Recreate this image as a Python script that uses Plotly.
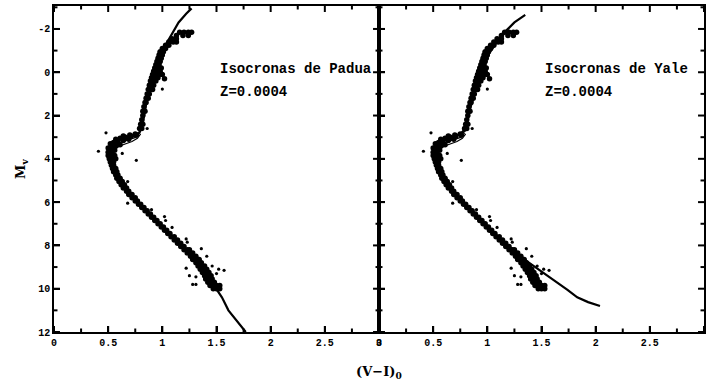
import plotly.graph_objects as go

# ---------------- data ----------------
# dense sequence stars (V-I)0, Mv
ms_x = [0.53,0.55, 0.54,0.57, 0.55,0.58, 0.57,0.59, 0.58,0.61, 0.60,0.63, 0.62,0.65, 0.64,0.67,
        0.67,0.69, 0.69,0.72, 0.72,0.75, 0.75,0.77, 0.78,0.80, 0.81,0.83, 0.84,0.86, 0.87,0.89,
        0.90,0.92, 0.93,0.95, 0.96,0.98, 0.99,1.01, 1.02,1.04, 1.05,1.07, 1.08,1.11, 1.11,1.14,
        1.14,1.17, 1.17,1.20, 1.20,1.23,1.25, 1.23,1.26,1.28, 1.26,1.29,1.31, 1.28,1.31,1.34,
        1.31,1.34,1.36, 1.33,1.36,1.39, 1.35,1.38,1.41, 1.37,1.40,1.43, 1.39,1.42,1.45,
        1.40,1.43,1.46, 1.42,1.45,1.48, 1.44,1.47,1.50,1.53, 1.47,1.50,1.53]
ms_y = [4.30,4.30, 4.45,4.45, 4.60,4.60, 4.75,4.75, 4.90,4.90, 5.05,5.05, 5.20,5.20, 5.35,5.35,
        5.50,5.50, 5.65,5.65, 5.80,5.80, 5.95,5.95, 6.10,6.10, 6.25,6.25, 6.40,6.40, 6.55,6.55,
        6.70,6.70, 6.85,6.85, 7.00,7.00, 7.15,7.15, 7.30,7.30, 7.45,7.45, 7.60,7.60, 7.75,7.75,
        7.90,7.90, 8.05,8.05, 8.20,8.20,8.20, 8.35,8.35,8.35, 8.50,8.50,8.50, 8.65,8.65,8.65,
        8.80,8.80,8.80, 8.95,8.95,8.95, 9.10,9.10,9.10, 9.25,9.25,9.25, 9.40,9.40,9.40,
        9.55,9.55,9.55, 9.70,9.70,9.70, 9.85,9.85,9.85,9.85, 10.0,10.0,10.0]

to_x = [0.64,0.70,0.75, 0.57,0.61,0.66,0.71,0.76, 0.52,0.55,0.59,0.64,0.69,
        0.50,0.53,0.57,0.61, 0.50,0.53,0.56, 0.50,0.53,0.56, 0.51,0.54,0.57, 0.52,0.55]
to_y = [2.95,2.90,2.85, 3.10,3.05,3.00,2.95,2.90, 3.30,3.25,3.20,3.15,3.10,
        3.50,3.45,3.40,3.35, 3.70,3.65,3.60, 3.85,3.85,3.85, 4.00,4.00,4.00, 4.15,4.15]

rgb_x = [0.79,0.81, 0.80,0.82, 0.81, 0.82, 0.82,0.84, 0.83, 0.84,0.85, 0.85,0.87, 0.86,0.88,
         0.87,0.89,0.91, 0.88,0.90,0.92, 0.89,0.91,0.94, 0.90,0.93,0.96,1.02, 0.91,0.94,0.97,1.00,
         0.92,0.95,0.98, 0.93,0.96,0.99, 0.94,0.97, 0.95,0.98, 0.96,0.99, 0.97,1.00, 0.98,1.01,
         1.00,1.03, 1.03,1.06, 1.06,1.10,1.13, 1.09,1.13, 1.13,1.19,1.24, 1.16,1.20,1.24,1.27]
rgb_y = [2.6,2.6, 2.4,2.4, 2.2, 2.0, 1.8,1.8, 1.6, 1.4,1.4, 1.2,1.2, 1.0,1.0,
         0.8,0.8,0.8, 0.6,0.6,0.6, 0.4,0.4,0.4, 0.25,0.25,0.25,0.3, 0.1,0.1,0.1,0.1,
         -0.05,-0.05,-0.05, -0.2,-0.2,-0.2, -0.35,-0.35, -0.5,-0.5, -0.65,-0.65, -0.8,-0.8, -0.95,-0.95,
         -1.1,-1.1, -1.25,-1.25, -1.4,-1.4,-1.4, -1.55,-1.55, -1.7,-1.7,-1.7, -1.85,-1.85,-1.85,-1.85]

out_x = [0.41,0.48,0.86,0.84,1.00,0.76,0.68,0.68,0.90,1.02,1.03,1.09,1.22,1.23,1.36,1.41,
         1.22,1.25,1.31,1.28,1.31,1.52,1.57,1.50,1.46,0.97,0.63]
out_y = [3.65,2.8,2.6,1.45,0.78,4.07,5.05,6.05,6.35,6.67,6.85,7.17,7.7,7.85,8.15,8.5,
         9.05,9.4,9.45,9.8,9.8,9.1,9.15,9.3,8.95,-0.93,3.75]

# Padua isochrone
pad_x = [1.27,1.22,1.15,1.09,1.05,1.00,0.97,0.93,0.88,0.86,0.84,0.82,0.79,0.74,0.67,0.58,0.53,0.51,
         0.52,0.53,0.56,0.61,0.70,0.82,0.97,1.09,1.22,1.34,1.43,1.48,1.55,1.61,1.69,1.77]
pad_y = [-2.95,-2.7,-2.3,-1.8,-1.4,-1.0,-0.5,0.2,0.83,1.2,1.76,2.36,2.78,2.95,3.0,3.1,3.3,3.6,
         3.9,4.1,4.5,5.0,5.6,6.25,7.0,7.6,8.2,8.85,9.5,9.9,10.4,11.0,11.5,12.0]

# Yale isochrone
yal_x = [1.35,1.25,1.17,1.09,1.02,0.97,0.93,0.90,0.87,0.84,0.82,0.80,0.75,0.69,0.62,0.56,0.52,0.51,
         0.52,0.55,0.61,0.70,0.83,0.97,1.10,1.22,1.30,1.40,1.50,1.62,1.74,1.83,1.93,2.04]
yal_y = [-2.65,-2.3,-1.9,-1.4,-0.9,-0.4,0.2,0.7,1.2,1.7,2.2,2.6,2.85,3.0,3.12,3.3,3.55,3.85,
         4.1,4.5,5.0,5.6,6.3,7.0,7.6,8.15,8.5,8.85,9.2,9.6,10.05,10.4,10.62,10.8]

# subgiant fan (other ages)
fan1_x = [0.53,0.52,0.52,0.54,0.58,0.64,0.70,0.76,0.79]
fan1_y = [4.3,4.0,3.7,3.45,3.3,3.2,3.12,3.0,2.8]
fan2_x = [0.53,0.54,0.54,0.56,0.60,0.66,0.72,0.77,0.80]
fan2_y = [4.4,4.1,3.85,3.6,3.42,3.32,3.2,3.05,2.85]
fan3_x = [0.52,0.50,0.51,0.54,0.59,0.66,0.72,0.77,0.80]
fan3_y = [4.2,3.8,3.45,3.25,3.1,3.0,2.92,2.82,2.7]

x_range = [0, 3]
y_range = [12, -3.06]
x_tickvals = [0, 0.5, 1, 1.5, 2, 2.5, 3]
x_ticktext = ["0", "0.5", "1", "1.5", "2", "2.5", "3"]
x_minorvals = [0.25, 0.75, 1.25, 1.75, 2.25, 2.75]
y_tickvals = [-2, 0, 2, 4, 6, 8, 10, 12]
y_ticktext = ["-2", "0", "2", "4", "6", "8", "10", "12"]
y_minorvals = [-3, -1, 1, 3, 5, 7, 9, 11]

panel_titles = ["Isocronas de Padua", "Isocronas de Yale"]
metallicity = "Z=0.0004"

# ---------------- figure ----------------
W, H = 707, 385
ML, MR, MT, MB = 54, 0, 6, 53
FONT = "Liberation Mono"
fig = go.Figure()

# pixel -> data unit conversions for tick lengths
plot_w = (W - ML - MR) / 2.0
plot_h = H - MT - MB
x_per_px = (x_range[1] - x_range[0]) / plot_w
y_per_px = (y_range[0] - y_range[1]) / plot_h
x_lo, x_hi = x_range
y_bot, y_top = y_range


def tick_segments(major_len, minor_len):
    xs, ys = [], []
    for vals, ln in [(x_tickvals, major_len), (x_minorvals, minor_len)]:
        d = ln * y_per_px
        for v in vals:
            xs += [v, v, None, v, v, None]
            ys += [y_bot, y_bot - d, None, y_top, y_top + d, None]
    for vals, ln in [(y_tickvals, major_len), (y_minorvals, minor_len)]:
        d = ln * x_per_px
        for v in vals:
            xs += [x_lo, x_lo + d, None, x_hi, x_hi - d, None]
            ys += [v, v, None, v, v, None]
    return xs, ys


tick_x, tick_y = tick_segments(6, 3.5)

for i, (ix, iy) in enumerate([(pad_x, pad_y), (yal_x, yal_y)]):
    xa = "x" if i == 0 else "x2"
    ya = "y" if i == 0 else "y2"
    for fx, fy in [(fan1_x, fan1_y), (fan2_x, fan2_y), (fan3_x, fan3_y)]:
        fig.add_trace(go.Scatter(x=fx, y=fy, mode="lines", xaxis=xa, yaxis=ya,
                                 line=dict(color="black", width=1.2), showlegend=False))
    fig.add_trace(go.Scatter(x=ix, y=iy, mode="lines", xaxis=xa, yaxis=ya,
                             line=dict(color="black", width=2.2), showlegend=False))
    fig.add_trace(go.Scatter(x=ms_x + to_x + rgb_x, y=ms_y + to_y + rgb_y, mode="markers",
                             xaxis=xa, yaxis=ya, showlegend=False,
                             marker=dict(color="black", size=5.5, line=dict(width=0))))
    fig.add_trace(go.Scatter(x=out_x, y=out_y, mode="markers", xaxis=xa, yaxis=ya,
                             showlegend=False,
                             marker=dict(color="black", size=3.2, line=dict(width=0))))
    # axis tick marks
    fig.add_trace(go.Scatter(x=tick_x, y=tick_y, mode="lines", xaxis=xa, yaxis=ya,
                             showlegend=False, hoverinfo="skip", connectgaps=False,
                             line=dict(color="black", width=2)))

tickfont = dict(family=FONT, size=10, color="black")
ax_x = dict(range=x_range, tickvals=x_tickvals, ticktext=["<b>" + t + "</b>" for t in x_ticktext],
            ticks="inside", ticklen=6, tickwidth=2, tickcolor="#000000",
            showline=True, linecolor="#000000", linewidth=1.5, mirror=True,
            showgrid=False, zeroline=False, tickfont=tickfont)
ax_y = dict(range=y_range, tickvals=y_tickvals, ticktext=["<b>" + t + "</b>" for t in y_ticktext],
            ticks="inside", ticklen=6, tickwidth=2, tickcolor="#000000",
            showline=True, linecolor="#000000", linewidth=1.5, mirror=True,
            showgrid=False, zeroline=False, tickfont=tickfont)

fig.update_layout(
    width=W, height=H,
    margin=dict(l=ML, r=MR, t=MT, b=MB),
    paper_bgcolor="white", plot_bgcolor="white",
    xaxis=dict(domain=[0, 0.5], anchor="y", **ax_x),
    xaxis2=dict(domain=[0.5, 1.0], anchor="y2", **ax_x),
    yaxis=dict(domain=[0, 1], anchor="x", **ax_y),
    yaxis2=dict(domain=[0, 1], anchor="x2", showticklabels=False, **ax_y),
)

annfont = dict(family=FONT, size=14, color="black")
for i, t in enumerate(panel_titles):
    xr = "x" if i == 0 else "x2"
    yr = "y" if i == 0 else "y2"
    fig.add_annotation(x=1.51, y=-0.15, xref=xr, yref=yr, text="<b>" + t + "</b>",
                       showarrow=False, xanchor="left", yanchor="middle", font=annfont)
    fig.add_annotation(x=1.51, y=0.9, xref=xr, yref=yr, text="<b>" + metallicity + "</b>",
                       showarrow=False, xanchor="left", yanchor="middle", font=annfont)

fig.add_annotation(x=0.5, y=0, xref="paper", yref="paper", yshift=-40, showarrow=False,
                   text="<b>(V\u2212I)<sub>0</sub></b>", xanchor="center", yanchor="middle",
                   font=dict(family="DejaVu Serif", size=13, color="black"))
fig.add_annotation(x=0, y=0.5, xref="paper", yref="paper", xshift=-33, showarrow=False,
                   text="<b>M<sub>v</sub></b>", textangle=-90, xanchor="center", yanchor="middle",
                   font=dict(family="DejaVu Serif", size=13, color="black"))

fig.write_html("out.html")
